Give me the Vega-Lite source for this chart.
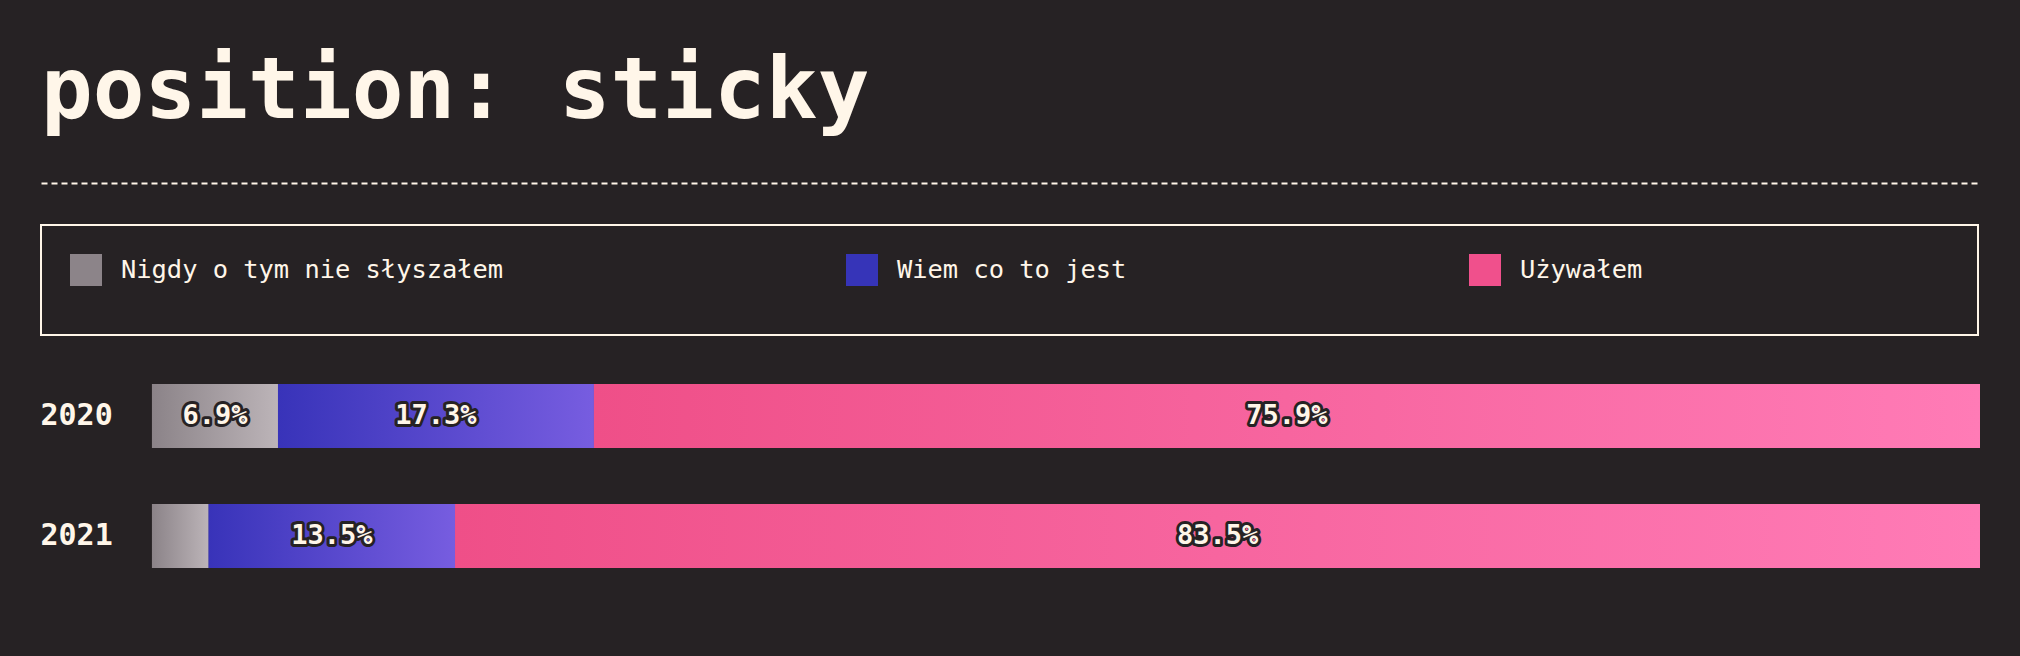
{
  "$schema": "https://vega.github.io/schema/vega-lite/v6.json",
  "autosize": "none",
  "width": 1939,
  "height": 184,
  "padding": {"left": 41, "top": 384, "right": 40, "bottom": 88},
  "background": "#262224",
  "title": {
    "text": "position: sticky",
    "anchor": "start",
    "frame": "group",
    "font": "DejaVu Sans Mono",
    "fontSize": 86,
    "fontWeight": "bold",
    "color": "#fff6e9",
    "baseline": "alphabetic",
    "offset": 48,
    "dy": 69
  },
  "config": {
    "view": {"stroke": null},
    "text": {"font": "DejaVu Sans Mono"},
    "legend": {"strokeWidth": 2}
  },
  "data": {
    "values": [
      {"year": "2020", "category": "Nigdy o tym nie słyszałem", "value": 0.069},
      {"year": "2020", "category": "Wiem co to jest", "value": 0.173},
      {"year": "2020", "category": "Używałem", "value": 0.759},
      {"year": "2021", "category": "Nigdy o tym nie słyszałem", "value": 0.031},
      {"year": "2021", "category": "Wiem co to jest", "value": 0.135},
      {"year": "2021", "category": "Używałem", "value": 0.835}
    ]
  },
  "transform": [
    {"stack": "value", "groupby": ["year"], "offset": "normalize", "as": ["v0", "v1"]}
  ],
  "encoding": {
    "y": {
      "field": "year",
      "type": "nominal",
      "scale": {"paddingInner": 0.4667, "paddingOuter": 0},
      "axis": {
        "title": null,
        "domain": false,
        "ticks": false,
        "tickSize": 0,
        "grid": false,
        "labelAlign": "left",
        "labelPadding": 1,
        "labelFont": "DejaVu Sans Mono",
        "labelFontSize": 30,
        "labelFontWeight": "bold",
        "labelColor": "#fff6e9"
      }
    }
  },
  "layer": [
    {
      "mark": {"type": "bar"},
      "encoding": {
        "x": {
          "field": "v0",
          "type": "quantitative",
          "scale": {"domain": [-0.0607, 1], "nice": false, "zero": false},
          "axis": {
            "orient": "top",
            "offset": 201,
            "labels": false,
            "ticks": false,
            "grid": false,
            "title": null,
            "domainColor": "#fff6e9",
            "domainWidth": 2,
            "domainDash": [6, 4]
          }
        },
        "x2": {"field": "v1"},
        "color": {
          "field": "category",
          "type": "nominal",
          "scale": {
            "domain": ["Nigdy o tym nie słyszałem", "Wiem co to jest", "Używałem"],
            "range": ["#8c8489", "#3634b8", "#f0508c"]
          },
          "legend": {
            "orient": "none",
            "legendX": 0,
            "legendY": -159,
            "direction": "horizontal",
            "columns": 3,
            "columnPadding": 342,
            "padding": 29,
            "strokeColor": "#fff6e9",
            "symbolType": "square",
            "symbolSize": 1024,
            "symbolStrokeWidth": 0,
            "symbolOpacity": 1,
            "labelFont": "DejaVu Sans Mono",
            "labelFontSize": 25.4,
            "labelColor": "#fff6e9",
            "labelOffset": 19,
            "labelLimit": 2000,
            "labelExpr": "datum.index == 2 ? datum.label + '⠀⠀⠀⠀⠀⠀⠀⠀⠀⠀⠀⠀⠀⠀⠀⠀⠀' : datum.label",
            "title": "⠀",
            "titleOrient": "bottom",
            "titleFontSize": 16,
            "titlePadding": 4
          }
        }
      }
    },
    {
      "transform": [{"filter": "datum.category == 'Nigdy o tym nie słyszałem'"}],
      "mark": {
        "type": "bar",
        "color": {"gradient": "linear", "stops": [{"offset": 0, "color": "#8b8388"}, {"offset": 1, "color": "#bcb4b8"}]}
      },
      "encoding": {
        "x": {"field": "v0", "type": "quantitative"},
        "x2": {"field": "v1"}
      }
    },
    {
      "transform": [{"filter": "datum.category == 'Wiem co to jest'"}],
      "mark": {
        "type": "bar",
        "color": {"gradient": "linear", "stops": [{"offset": 0, "color": "#3833b9"}, {"offset": 1, "color": "#775de0"}]}
      },
      "encoding": {
        "x": {"field": "v0", "type": "quantitative"},
        "x2": {"field": "v1"}
      }
    },
    {
      "transform": [{"filter": "datum.category == 'Używałem'"}],
      "mark": {
        "type": "bar",
        "color": {"gradient": "linear", "stops": [{"offset": 0, "color": "#ef4f88"}, {"offset": 1, "color": "#ff7bb6"}]}
      },
      "encoding": {
        "x": {"field": "v0", "type": "quantitative"},
        "x2": {"field": "v1"}
      }
    },
    {
      "mark": {
        "type": "text",
        "font": "DejaVu Sans Mono",
        "fontSize": 27,
        "fontWeight": "bold",
        "align": "center",
        "baseline": "middle",
        "fill": "#262224",
        "stroke": "#262224",
        "strokeWidth": 6,
        "strokeJoin": "round"
      },
      "encoding": {
        "x": {"field": "value", "type": "quantitative", "stack": "normalize", "bandPosition": 0.5},
        "detail": {"field": "category"},
        "order": {"field": "v0"},
        "text": {"condition": {"test": "datum.value < 0.05", "value": ""}, "field": "value", "type": "quantitative", "format": ".1%"}
      }
    },
    {
      "mark": {
        "type": "text",
        "font": "DejaVu Sans Mono",
        "fontSize": 27,
        "fontWeight": "bold",
        "align": "center",
        "baseline": "middle",
        "fill": "#fff6e9"
      },
      "encoding": {
        "x": {"field": "value", "type": "quantitative", "stack": "normalize", "bandPosition": 0.5},
        "detail": {"field": "category"},
        "order": {"field": "v0"},
        "text": {"condition": {"test": "datum.value < 0.05", "value": ""}, "field": "value", "type": "quantitative", "format": ".1%"}
      }
    }
  ]
}
